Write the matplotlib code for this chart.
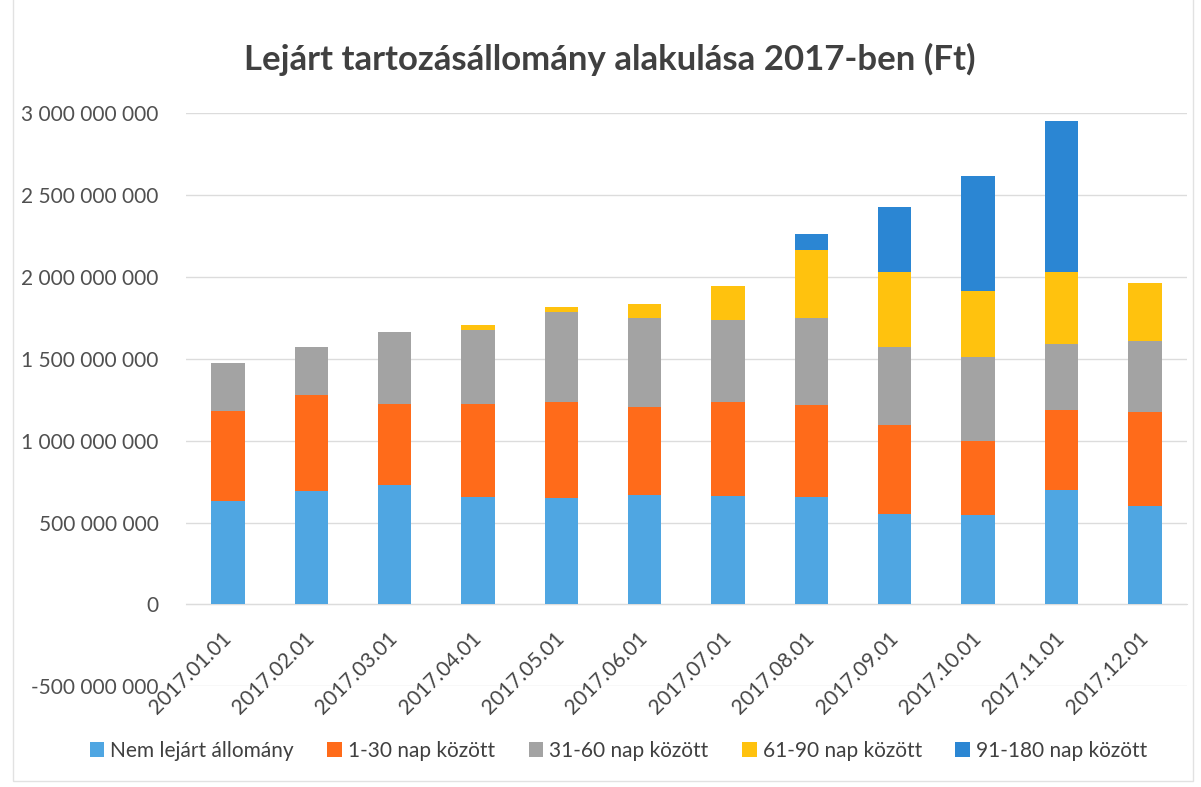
import matplotlib
matplotlib.use('Agg')
import numpy as np
from matplotlib import pyplot as plt
from matplotlib.ticker import FuncFormatter
from matplotlib.patches import Rectangle


months = ['2017.01.01', '2017.02.01', '2017.03.01', '2017.04.01',
          '2017.05.01', '2017.06.01', '2017.07.01', '2017.08.01',
          '2017.09.01', '2017.10.01', '2017.11.01', '2017.12.01']

# values in Ft
nem_lejart = [633e6, 691e6, 728e6, 656e6, 649e6, 666e6,
              661e6, 658e6, 553e6, 547e6, 700e6, 602e6]
nap_1_30 = [547e6, 589e6, 497e6, 569e6, 588e6, 540e6,
            576e6, 558e6, 540e6, 451e6, 490e6, 575e6]
nap_31_60 = [296e6, 290e6, 437e6, 450e6, 549e6, 542e6,
             499e6, 532e6, 481e6, 512e6, 399e6, 432e6]
nap_61_90 = [0, 0, 0, 33e6, 30e6, 88e6,
             212e6, 418e6, 457e6, 405e6, 443e6, 355e6]
nap_91_180 = [0, 0, 0, 0, 0, 0,
              0, 95e6, 396e6, 703e6, 922e6, 0]

series = [nem_lejart, nap_1_30, nap_31_60, nap_61_90, nap_91_180]
labels = ['Nem lejárt állomány', '1-30 nap között', '31-60 nap között',
          '61-90 nap között', '91-180 nap között']
colors = ['#4FA6E2', '#FF6B1A', '#A3A3A3', '#FFC20E', '#2B86D3']

plt.rcParams['font.family'] = ['Lato', 'DejaVu Sans']

fig = plt.figure(figsize=(12.01, 7.87), dpi=100)
ax = fig.add_axes([0.155, 0.128, 0.833, 0.728])

x = np.arange(len(months))
bottom = np.zeros(len(months))
for vals, lab, col in zip(series, labels, colors):
    ax.bar(x, vals, width=0.4, bottom=bottom, color=col, label=lab, zorder=3)
    bottom += np.array(vals)

ax.set_xlim(-0.5, len(months) - 0.5)
ax.set_ylim(-500e6, 3000e6)
ax.set_yticks(np.arange(-500e6, 3000e6 + 1, 500e6))
ax.yaxis.set_major_formatter(FuncFormatter(lambda v, p: f'{int(round(v)):,}'.replace(',', ' ')))
ax.grid(axis='y', color='#DCDCDC', linewidth=1, zorder=0)

for s in ['top', 'right', 'left']:
    ax.spines[s].set_visible(False)
ax.spines['bottom'].set_position(('data', 0))
ax.spines['bottom'].set_color('#DCDCDC')

ax.set_xticks(x)
ax.set_xticklabels(months, rotation=45, ha='right', va='center', rotation_mode='anchor')
ax.tick_params(axis='x', length=0, pad=22, labelsize=15, labelcolor='#454545')
ax.tick_params(axis='y', length=0, pad=20, labelsize=15, labelcolor='#505050')

fig.text(0.508, 0.924, 'Lejárt tartozásállomány alakulása 2017-ben (Ft)',
         ha='center', va='center', fontsize=25, fontweight='bold', color='#404040')

fig.legend(loc='center', bbox_to_anchor=(0.515, 0.046), ncol=5, frameon=False,
           fontsize=15, labelcolor='#404040', handlelength=0.7, handleheight=0.7,
           handletextpad=0.3, columnspacing=1.6)

fig.patches.append(Rectangle((0.011, 0.008), 0.982, 1.2, transform=fig.transFigure,
                             fill=False, edgecolor='#E2E2E2', linewidth=1))

fig.savefig('out.png', dpi=100)
